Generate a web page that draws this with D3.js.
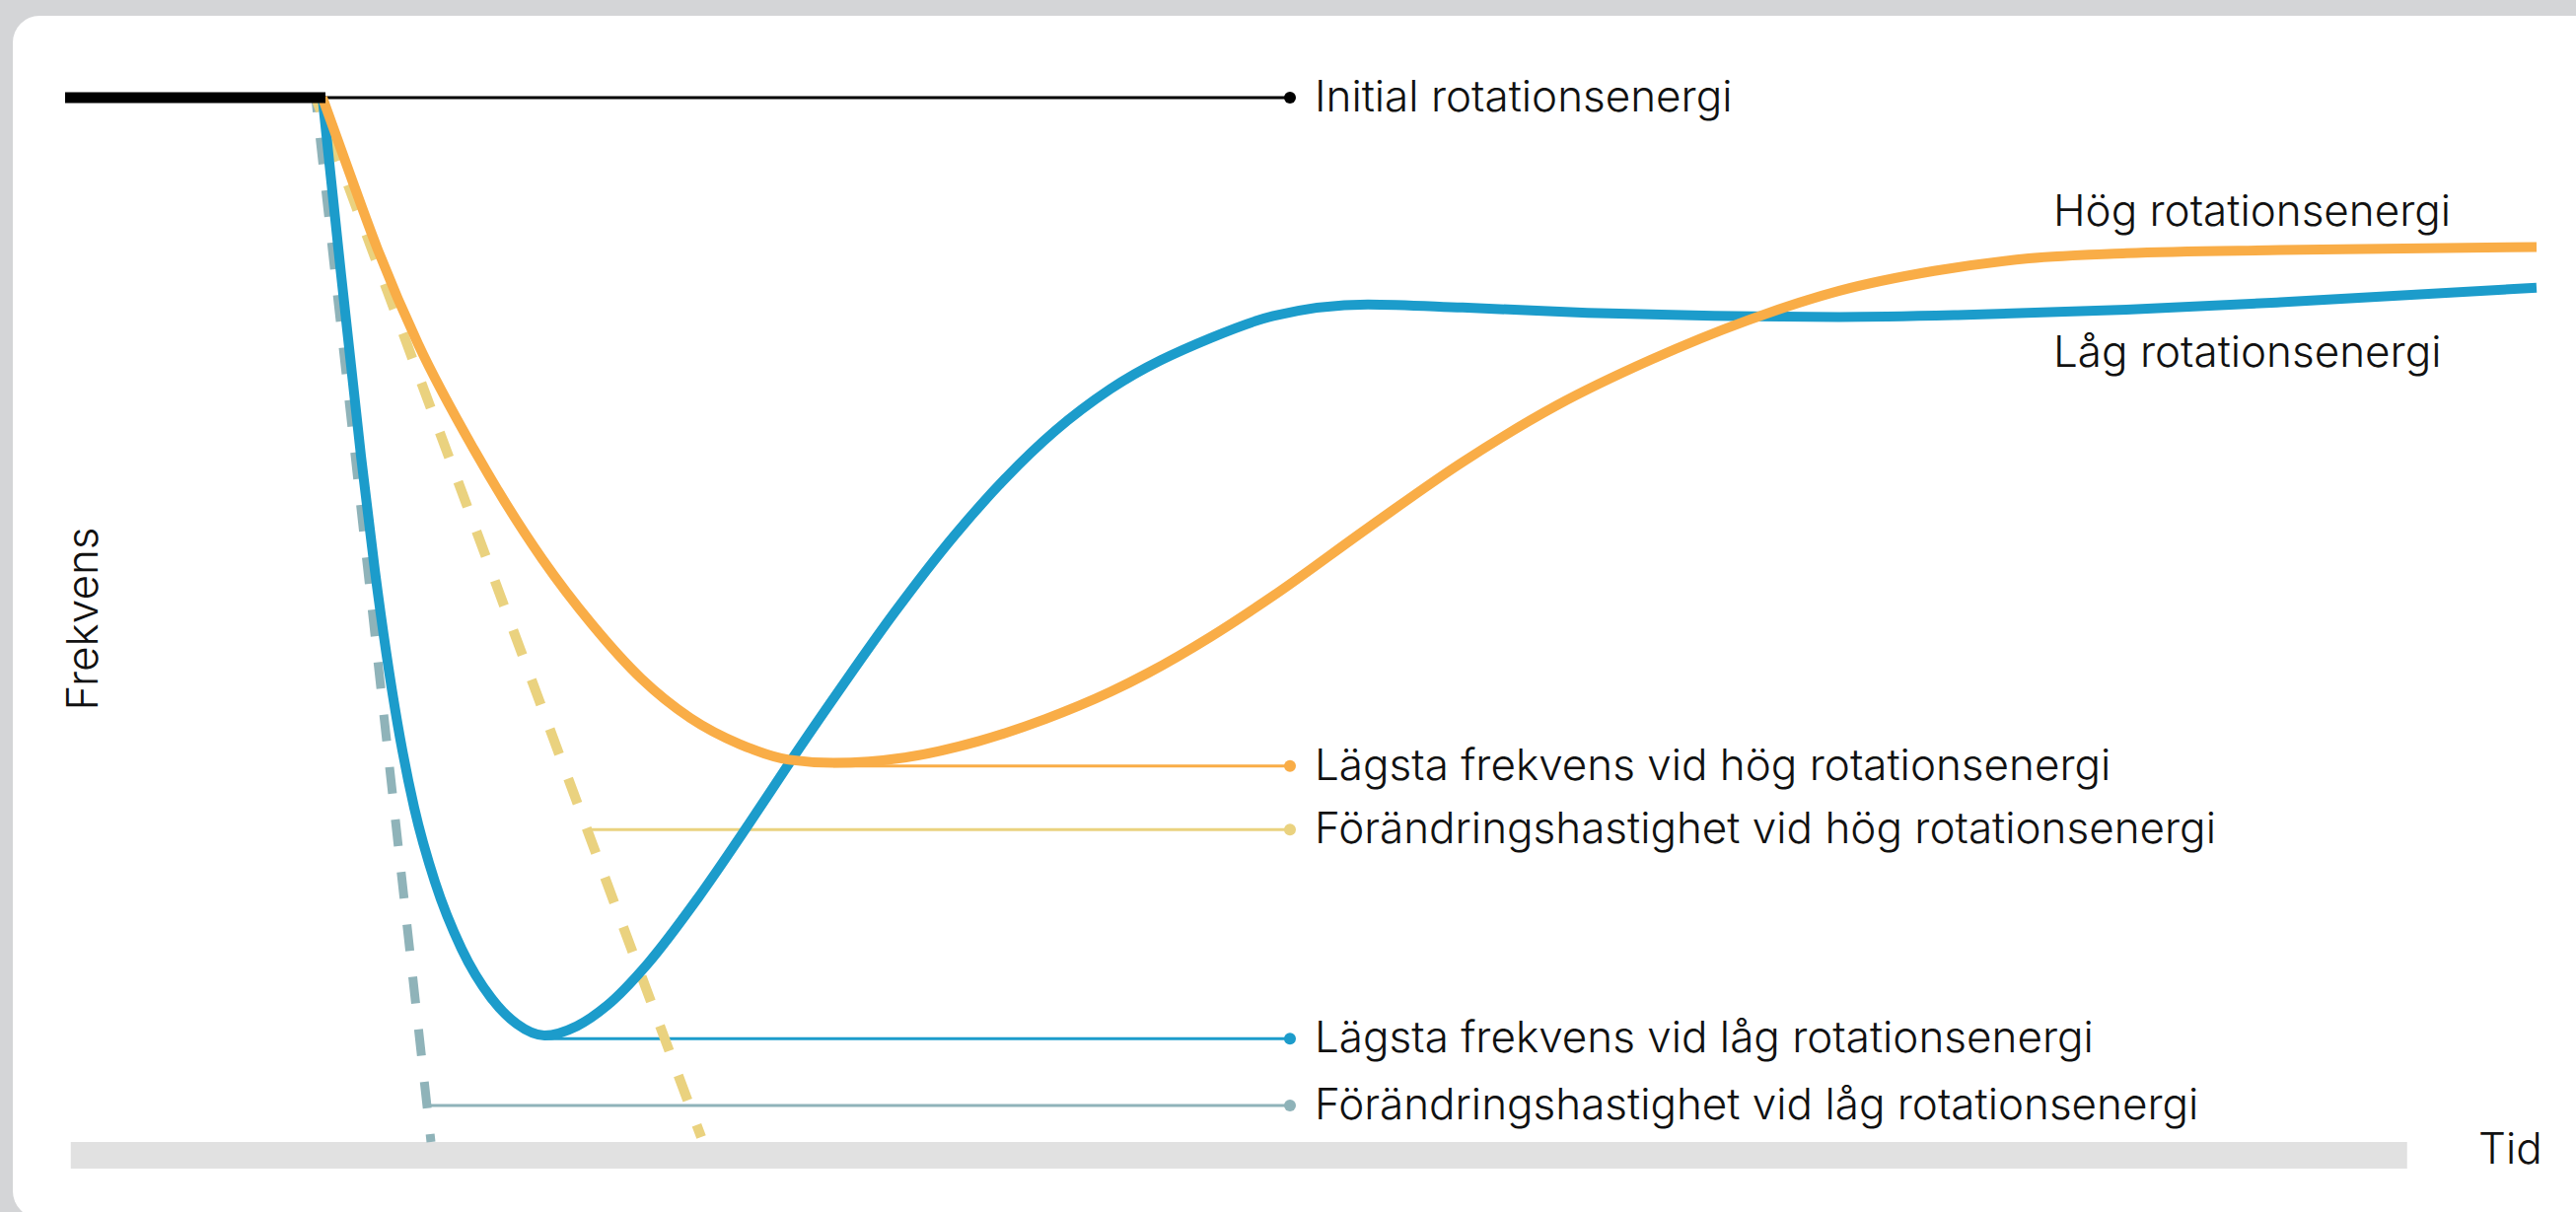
<!DOCTYPE html>
<html>
<head>
<meta charset="utf-8">
<script src="https://cdn.jsdelivr.net/npm/d3@7"></script>
<style>
  html, body { margin: 0; padding: 0; background: #d4d5d7; }
  svg { display: block; }
  text { font-family: Inter, "Open Sans", sans-serif; font-weight: 300; fill: #111; }
</style>
</head>
<body>
<svg id="chart" width="2612" height="1229"></svg>
<script>
// ---- Data (time in arbitrary units 0..1000, frequency as % of span, 100 = initial) ----
const blueTime = [104.4,110.8,120.0,125.6,134.8,141.6,150.0,160.8,172.8,183.2,194.4,207.6,220.0,236.4,256.8,277.2,295.2,315.6,336.4,360.8,381.2,401.6,424.0,464.8,490.0,528.4,566.8,617.6,668.8,719.6,770.8,836.0,898.4,1002.4];
const blueFreq = [100.0,85.6,65.7,54.8,40.1,32.0,24.9,18.5,13.8,11.3,10.2,11.1,13.1,17.1,23.4,30.4,36.8,43.8,50.7,58.1,63.5,68.1,72.1,77.0,79.1,80.2,79.9,79.4,79.1,79.0,79.2,79.7,80.4,81.8];

const orangeTime = [104.4,115.2,126.4,143.2,165.6,193.6,213.6,233.6,253.6,273.6,293.6,311.6,340.4,370.8,397.6,424.0,439.2,464.8,490.0,528.4,566.8,604.8,643.2,681.6,719.6,758.0,796.4,836.0,898.4,1002.4];
const orangeFreq = [100.0,92.9,85.7,76.4,66.4,55.8,49.6,44.4,40.6,38.1,36.6,36.3,36.8,38.4,40.5,43.1,44.9,48.4,52.3,58.8,65.1,70.5,74.9,78.6,81.5,83.4,84.6,85.1,85.4,85.7];

// rate-of-change (tangent) lines: [start, end]
const tangentLowTime = [101.6, 148.4];
const tangentLowFreq = [100, 0];
const tangentHighTime = [101.6, 258.0];
const tangentHighFreq = [100, 0.47];

// initial (pre-event) level
const initialTime = [0, 105.6];
const initialFreq = 100;

// annotations
const annotationKeys = ["initial", "minHigh", "rateHigh", "minLow", "rateLow"];
const annotationLabels = [
  "Initial rotationsenergi",
  "Lägsta frekvens vid hög rotationsenergi",
  "Förändringshastighet vid hög rotationsenergi",
  "Lägsta frekvens vid låg rotationsenergi",
  "Förändringshastighet vid låg rotationsenergi"
];
const annotationFreq = [100, 36.0, 29.9, 9.9, 3.5];
const annotationStartTime = [105.6, 311.6, 212.8, 194.4, 148.4];
const annotationEndTime = 496.8;

// series labels
const seriesLabels = ["Hög rotationsenergi", "Låg rotationsenergi"];
const seriesLabelTime = 806.4;
const seriesLabelFreq = [87.7, 74.2];

const xAxisLabel = "Tid";
const yAxisLabel = "Frekvens";

// ---- Styles ----
const colors = {
  blue: "#1c9ccb",
  orange: "#f9ad47",
  yellow: "#ead27f",
  teal: "#8fb3b9",
  black: "#000000",
  bar: "#e1e1e1"
};
const annotationColors = {
  initial: colors.black, minHigh: colors.orange, rateHigh: colors.yellow,
  minLow: colors.blue, rateLow: colors.teal
};

// ---- Scales ----
const W = 2612, H = 1229;
const x = d3.scaleLinear().domain([0, 1000]).range([66, 2566]);
const y = d3.scaleLinear().domain([0, 100]).range([1158, 99]);

const svg = d3.select("#chart");

// card
svg.append("rect")
  .attr("x", 13).attr("y", 16)
  .attr("width", W + 60).attr("height", H + 6 - 16)
  .attr("rx", 27).attr("ry", 27)
  .attr("fill", "#ffffff");

// time axis bar
svg.append("rect")
  .attr("x", x(2.3)).attr("y", y(0))
  .attr("width", x(949.9) - x(2.3)).attr("height", 27)
  .attr("fill", colors.bar);

// annotation leader lines
const fontSize = 44;
annotationKeys.forEach((k, i) => {
  const c = annotationColors[k];
  svg.append("line")
    .attr("x1", x(annotationStartTime[i])).attr("x2", x(annotationEndTime))
    .attr("y1", y(annotationFreq[i])).attr("y2", y(annotationFreq[i]))
    .attr("stroke", c).attr("stroke-width", 3);
  svg.append("circle")
    .attr("cx", x(annotationEndTime)).attr("cy", y(annotationFreq[i]))
    .attr("r", 6).attr("fill", c);
  svg.append("text")
    .attr("x", x(annotationEndTime) + 25)
    .attr("y", y(annotationFreq[i]) + 14)
    .attr("font-size", fontSize)
    .text(annotationLabels[i]);
});

const line = d3.line().x(d => x(d[0])).y(d => y(d[1]));
const curve = d3.line().x(d => x(d[0])).y(d => y(d[1])).curve(d3.curveMonotoneX);

// tangent dashed lines
svg.append("path")
  .datum(tangentLowTime.map((t, i) => [t, tangentLowFreq[i]]))
  .attr("d", line).attr("fill", "none")
  .attr("stroke", colors.teal).attr("stroke-width", 9)
  .attr("stroke-dasharray", "27,26.5").attr("stroke-dashoffset", 12.5);
svg.append("path")
  .datum(tangentHighTime.map((t, i) => [t, tangentHighFreq[i]]))
  .attr("d", line).attr("fill", "none")
  .attr("stroke", colors.yellow).attr("stroke-width", 10)
  .attr("stroke-dasharray", "27,26.5").attr("stroke-dashoffset", 12.5);

// series
svg.append("path")
  .datum(blueTime.map((t, i) => [t, blueFreq[i]]))
  .attr("d", curve).attr("fill", "none")
  .attr("stroke", colors.blue).attr("stroke-width", 10)
  .attr("stroke-linejoin", "round");
svg.append("path")
  .datum(orangeTime.map((t, i) => [t, orangeFreq[i]]))
  .attr("d", curve).attr("fill", "none")
  .attr("stroke", colors.orange).attr("stroke-width", 10)
  .attr("stroke-linejoin", "round");

// initial level
svg.append("line")
  .attr("x1", x(initialTime[0])).attr("x2", x(initialTime[1]))
  .attr("y1", y(initialFreq)).attr("y2", y(initialFreq))
  .attr("stroke", colors.black).attr("stroke-width", 11);

// series labels
seriesLabels.forEach((s, i) => {
  svg.append("text")
    .attr("x", x(seriesLabelTime)).attr("y", y(seriesLabelFreq[i]))
    .attr("font-size", fontSize).text(s);
});

// axis labels
svg.append("text")
  .attr("transform", `translate(${x(13.2)},${y(50.1)}) rotate(-90)`)
  .attr("text-anchor", "middle")
  .attr("font-size", fontSize).text(yAxisLabel);
svg.append("text")
  .attr("x", x(978.8)).attr("y", y(-2.08))
  .attr("font-size", fontSize).text(xAxisLabel);
</script>
</body>
</html>
